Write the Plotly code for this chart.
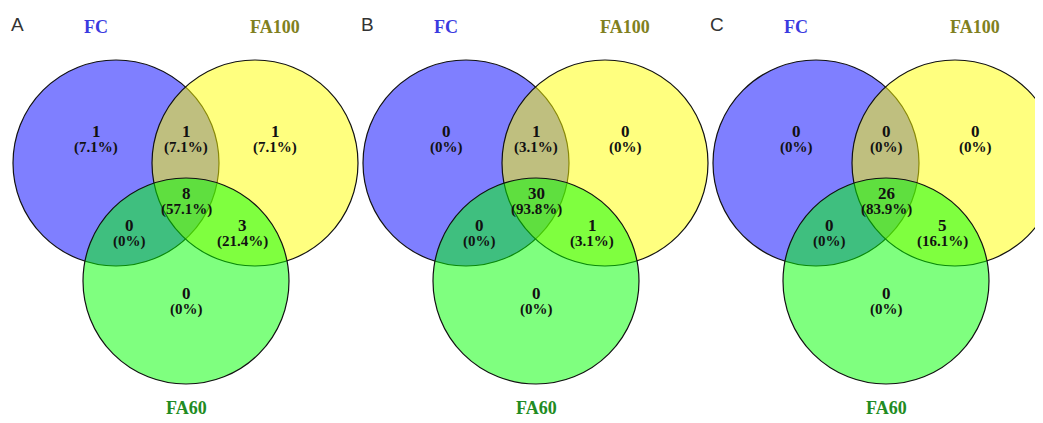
import plotly.graph_objects as go

# ---- data ----
panel_letters = ["A", "B", "C"]
set_names = ["FC", "FA100", "FA60"]
region_names = ["FC", "FC&FA100", "FA100", "FC&FA60", "FC&FA100&FA60", "FA100&FA60", "FA60"]
counts_A = [1, 1, 1, 0, 8, 3, 0]
pct_A = ["7.1%", "7.1%", "7.1%", "0%", "57.1%", "21.4%", "0%"]
counts_B = [0, 1, 0, 0, 30, 1, 0]
pct_B = ["0%", "3.1%", "0%", "0%", "93.8%", "3.1%", "0%"]
counts_C = [0, 0, 0, 0, 26, 5, 0]
pct_C = ["0%", "0%", "0%", "0%", "83.9%", "16.1%", "0%"]

panels = [(counts_A, pct_A), (counts_B, pct_B), (counts_C, pct_C)]

# ---- layout (pixel coordinates within a panel) ----
W, H = 1043, 423
PAGE_OFF = 8  # default body margin of the html page
panel_dx = 350
circle_centers = [(116, 163), (255, 163), (186, 281)]
radius = 103
circle_fill = ["rgba(0,0,255,0.5)", "rgba(255,255,0,0.5)", "rgba(0,255,0,0.5)"]
set_label_pos = [(96, 27), (275, 27), (186, 408)]
set_label_color = ["#3a3ae0", "#808020", "#228b22"]
region_pos = [(96, 131), (186, 131), (275, 131), (129, 225), (186, 193), (242, 225), (186, 293)]
pct_dy = 16

fig = go.Figure()
shapes = []
annotations = []

for p, (counts, pcts) in enumerate(panels):
    ox = p * panel_dx
    for (cx, cy), fc in zip(circle_centers, circle_fill):
        shapes.append(dict(type="circle", xref="x", yref="y",
                           x0=ox + cx - radius, x1=ox + cx + radius,
                           y0=cy - radius, y1=cy + radius,
                           fillcolor=fc, line=dict(color="#111111", width=1.2),
                           layer="below"))
    # panel letter
    annotations.append(dict(x=ox + 17, y=24, xref="x", yref="y", text=panel_letters[p],
                            showarrow=False, font=dict(family="Liberation Sans", size=19, color="#333333")))
    # set labels
    for name, (lx, ly), col in zip(set_names, set_label_pos, set_label_color):
        annotations.append(dict(x=ox + lx, y=ly, xref="x", yref="y", text="<b>%s</b>" % name,
                                showarrow=False,
                                font=dict(family="Liberation Serif", size=18, color=col)))
    # region labels
    for c, pc, (rx, ry) in zip(counts, pcts, region_pos):
        annotations.append(dict(x=ox + rx, y=ry, xref="x", yref="y", text="<b>%d</b>" % c,
                                showarrow=False,
                                font=dict(family="Liberation Serif", size=17, color="#111111")))
        annotations.append(dict(x=ox + rx, y=ry + pct_dy, xref="x", yref="y", text="<b>(%s)</b>" % pc,
                                showarrow=False,
                                font=dict(family="Liberation Serif", size=15, color="#111111")))

fig.add_trace(go.Scatter(x=[PAGE_OFF, W + PAGE_OFF], y=[PAGE_OFF, H + PAGE_OFF], mode="markers",
                         marker=dict(opacity=0), hoverinfo="skip", showlegend=False))

fig.update_layout(
    width=W, height=H,
    margin=dict(l=0, r=0, t=0, b=0),
    paper_bgcolor="white", plot_bgcolor="white",
    shapes=shapes, annotations=annotations,
    xaxis=dict(range=[PAGE_OFF, W + PAGE_OFF], visible=False, fixedrange=True),
    yaxis=dict(range=[H + PAGE_OFF, PAGE_OFF], visible=False, fixedrange=True),
    showlegend=False,
)

fig.write_html("out.html")
